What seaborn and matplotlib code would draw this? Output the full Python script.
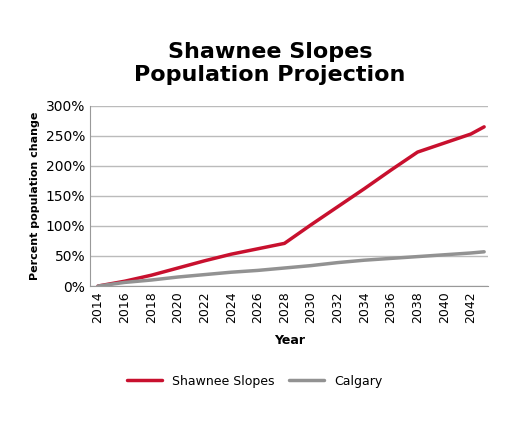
import matplotlib
matplotlib.use("Agg")
import matplotlib.pyplot as plt
import seaborn as sns
import pandas as pd
from matplotlib.ticker import FuncFormatter
from matplotlib.lines import Line2D

years = [2014, 2016, 2018, 2020, 2022, 2024, 2026, 2028, 2030, 2032, 2034, 2036, 2038, 2040, 2042, 2043]
shawnee = [0, 8, 18, 30, 42, 53, 62, 71, 102, 132, 162, 193, 223, 238, 253, 265]
calgary = [0, 6, 10, 15, 19, 23, 26, 30, 34, 39, 43, 46, 49, 52, 55, 57]

df = pd.DataFrame({"Year": years * 2,
                   "Value": shawnee + calgary,
                   "Series": ["Shawnee Slopes"] * len(years) + ["Calgary"] * len(years)})

sns.set_style("white")
plt.rcParams['font.family'] = ['DejaVu Sans']
plt.rcParams['text.color'] = 'black'
fig = plt.figure(figsize=(5.09, 4.25), dpi=100)
ax = fig.add_axes([0.177, 0.327, 0.782, 0.424])
sns.lineplot(data=df, x="Year", y="Value", hue="Series",
             palette={"Shawnee Slopes": "#c8102e", "Calgary": "#929292"},
             linewidth=2.5, ax=ax, legend=False)
ax.set_xlim(2013.4, 2043.3)
ax.set_ylim(0, 300)
ax.set_xticks(list(range(2014, 2043, 2)))
ax.set_xticklabels([str(y) for y in range(2014, 2043, 2)], rotation=90, fontsize=9, color='black')
ax.set_yticks(range(0, 301, 50))
ax.yaxis.set_major_formatter(FuncFormatter(lambda v, p: f"{int(v)}%"))
ax.tick_params(axis='y', labelsize=10, length=0, labelcolor='black')
ax.tick_params(axis='x', length=0)
ax.grid(axis='y', color='#bbbbbb', linewidth=1)
for s in ['top', 'right']:
    ax.spines[s].set_visible(False)
for s in ['left', 'bottom']:
    ax.spines[s].set_color('#999999')
ax.set_xlabel("Year", fontsize=9, fontweight='bold', labelpad=8, color='black')
ax.set_ylabel("Percent population change", fontsize=8, fontweight='bold', color='black')
fig.text(0.53, 0.80, "Shawnee Slopes\nPopulation Projection", ha='center', va='bottom',
         fontsize=16, fontweight='bold', linespacing=1.2, color='black')
handles = [Line2D([], [], color="#c8102e", lw=2.5), Line2D([], [], color="#929292", lw=2.5)]
fig.legend(handles, ["Shawnee Slopes", "Calgary"], loc='center', bbox_to_anchor=(0.5, 0.103),
           ncol=2, frameon=False, fontsize=9, handlelength=2.8, columnspacing=1.2)
fig.savefig("out.png", dpi=100)
